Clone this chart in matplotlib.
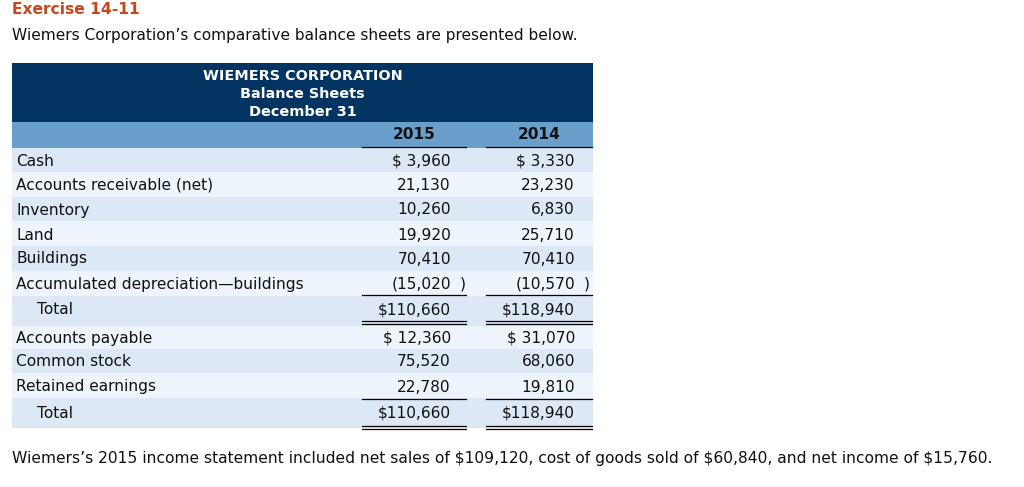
import matplotlib.pyplot as plt
from matplotlib.patches import Rectangle

# balance sheet values
labels = ["Cash", "Accounts receivable (net)", "Inventory", "Land", "Buildings",
          "Accumulated depreciation\u2014buildings", "Total",
          "Accounts payable", "Common stock", "Retained earnings", "Total"]
values_2015 = [3960, 21130, 10260, 19920, 70410, -15020, 110660, 12360, 75520, 22780, 110660]
values_2014 = [3330, 23230, 6830, 25710, 70410, -10570, 118940, 31070, 68060, 19810, 118940]
years = ["2015", "2014"]
dollar_rows = [0, 6, 7, 10]
total_rows = [6, 10]

header_lines = ["WIEMERS CORPORATION", "Balance Sheets", "December 31"]
title = "Exercise 14-11"
intro = "Wiemers Corporation\u2019s comparative balance sheets are presented below."
footer = ("Wiemers\u2019s 2015 income statement included net sales of $109,120, "
          "cost of goods sold of $60,840, and net income of $15,760.")

# layout (pixels)
row_top = [148, 172, 197, 221, 246, 271, 296, 326, 349, 373, 398]
row_bot = [172, 197, 221, 246, 271, 296, 326, 349, 373, 398, 428]
row_y = [161, 185, 210, 235, 259, 284, 310, 338, 362, 387, 413]
col_right = [451, 575]
col_span = [(362, 466), (486, 592)]
tx0, tx1 = 12, 593

fig = plt.figure(figsize=(10.24, 4.87), dpi=100)
ax = fig.add_axes([0, 0, 1, 1])
ax.set_xlim(0, 1024)
ax.set_ylim(487, 0)
ax.axis("off")

fs = 11.1
ink = "#111111"

ax.text(12, 9.5, title, color="#c8471f", fontsize=11.2, fontweight="bold", va="center")
ax.text(12, 35.5, intro, color=ink, fontsize=fs, va="center")
ax.text(12, 458.5, footer, color=ink, fontsize=11.2, va="center")

# header blocks
ax.add_patch(Rectangle((tx0, 63), tx1 - tx0, 59, color="#033462", lw=0))
ax.add_patch(Rectangle((tx0, 122), tx1 - tx0, 26, color="#6b9fcb", lw=0))
for i, line in enumerate(header_lines):
    ax.text((tx0 + tx1) / 2, 75.5 + 18 * i, line, color="white", fontsize=10.4,
            fontweight="bold", ha="center", va="center")
for j, yr in enumerate(years):
    x0, x1 = col_span[j]
    ax.text((x0 + x1) / 2, 134.5, yr, color=ink, fontsize=fs, fontweight="bold",
            ha="center", va="center")
    ax.plot([x0, x1], [147, 147], color="black", lw=0.9)

for i, lab in enumerate(labels):
    shade = "#dce8f6" if i % 2 == 0 else "#edf4fc"
    ax.add_patch(Rectangle((tx0, row_top[i]), tx1 - tx0, row_bot[i] - row_top[i],
                           color=shade, lw=0))
    x = 37 if i in total_rows else 16
    ax.text(x, row_y[i], lab, color=ink, fontsize=fs, va="center")
    for j, v in enumerate([values_2015[i], values_2014[i]]):
        s = f"{abs(v):,}"
        if i in dollar_rows:
            s = ("$" if v >= 100000 else "$ ") + s
        if v < 0:
            s = "(" + s
            ax.text(col_right[j] + 9, row_y[i], ")", color=ink, fontsize=fs, va="center")
        ax.text(col_right[j], row_y[i], s, color=ink, fontsize=fs, ha="right", va="center")

# rules above and below totals
for j in range(2):
    x0, x1 = col_span[j]
    for yy in [294.5, 321, 324, 399, 425.5, 428.5]:
        ax.plot([x0, x1], [yy, yy], color="black", lw=0.9)

fig.savefig("out.png", dpi=100)
